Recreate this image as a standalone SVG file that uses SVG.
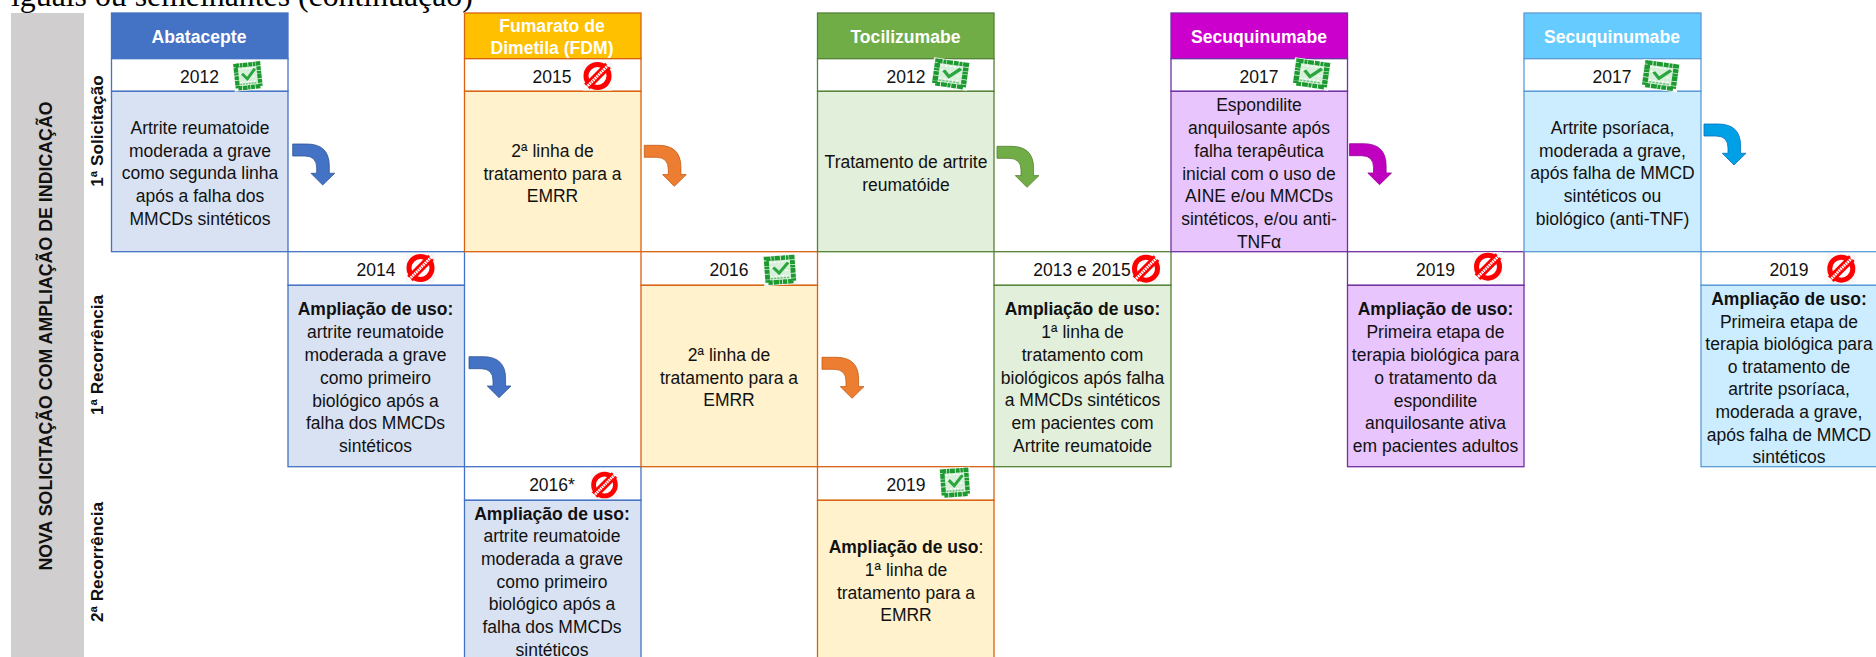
<svg xmlns="http://www.w3.org/2000/svg" width="1876" height="657" viewBox="0 0 1876 657">
<style>
text{font-family:"Liberation Sans",Arial,sans-serif;font-size:17.5px;fill:#111;text-anchor:middle}
.title{font-family:"Liberation Serif","Times New Roman",serif;font-size:31.8px;text-anchor:start;fill:#000}
.h{font-weight:bold;fill:#fff;font-size:17.6px}
.b,.bs{font-weight:bold}
.r{font-weight:bold;font-size:17.2px}
.n{font-weight:bold;font-size:17.8px}
rect.c{stroke-width:1.3}
.y{fill:#fff}
.blue .c{stroke:#4472C4}.blue .hd{fill:#4472C4}.blue .bd{fill:#D9E2F3}
.orange .c{stroke:#D9610F}.orange .hd{fill:#FFC000}.orange .bd{fill:#FFF2CC}
.green .c{stroke:#548235}.green .hd{fill:#70AD47}.green .bd{fill:#E2EFDA}
.purple .c{stroke:#7030A0}.purple .hd{fill:#CC00CC}.purple .bd{fill:#E8C5FD}
.cyan .c{stroke:#5B9BD5}.cyan .hd{fill:#66CCFF}.cyan .bd{fill:#CCECFF}
.a{stroke-width:.8}
.a1{fill:#4472C4;stroke:#2F5597}.a2{fill:#ED7D31;stroke:#C55A11}.a3{fill:#70AD47;stroke:#548235}.a4{fill:#BF00BF;stroke:#9A009A}.a5{fill:#00A0E6;stroke:#0070C0}
</style>
<defs>
<path id="arrow" d="M0 0H14Q36.600 0 36.600 22V29.300H42L30 41 18.300 29.300H24V24Q24 12 12 12H0Z"/>
<g id="ok">
<rect x="-15.500" y="-15" width="31" height="30" fill="#f7f8f7"/>
<rect x="-12" y="-12" width="24" height="24" fill="#d8efda" stroke="#1c9a30" stroke-width="4.500" stroke-dasharray="4 .7 2.500 .5 5 .8"/>
<path d="M-9-8H9M-9-3H-4M5 1H9M-9 6H9" stroke="#fff" stroke-width="1.200" stroke-dasharray="2 1.600"/>
<path d="M-6-3-1 3 8-7" fill="none" stroke="#2aa63e" stroke-width="3"/>
<path d="M-9 8H9" stroke="#6cc47a" stroke-width="1.500" stroke-dasharray="2 1"/>
</g>
<g id="no">
<rect x="-14.500" y="-14.500" width="29" height="29" fill="#f7f7f7"/>
<circle r="11.500" fill="#fff" stroke="#f00" stroke-width="5"/>
<path d="M-10.500 10.500 10.500-10.500" stroke="#f00" stroke-width="8"/>
<path d="M-11.500 11.500 11.500-11.500" stroke="#fff" stroke-width="2.800" stroke-dasharray="1.800 .7"/>
</g>
</defs>

<text class="title" x="11" y="5.500">iguais ou semelhantes (continuação)</text>

<g id="faixa-lateral">
<rect x="11" y="13" width="73" height="644" fill="#D0CECE"/>
<text class="n" transform="translate(52 336) rotate(-90)">NOVA SOLICITAÇÃO COM AMPLIAÇÃO DE INDICAÇÃO</text>
</g>
<g id="linha-1-solicitacao"><text class="r" transform="translate(103 131) rotate(-90)">1ª Solicitação</text></g>
<g id="linha-1-recorrencia"><text class="r" transform="translate(103 355) rotate(-90)">1ª Recorrência</text></g>
<g id="linha-2-recorrencia"><text class="r" transform="translate(103 562) rotate(-90)">2ª Recorrência</text></g>

<g id="abatacepte-2012" class="blue">
<rect class="c hd" x="111.500" y="13" width="176.500" height="45.700"/>
<rect class="c y" x="111.500" y="58.700" width="176.500" height="32.600"/>
<rect class="c bd" x="111.500" y="91.300" width="176.500" height="160.400"/>
<text class="h" x="199" y="42.500">Abatacepte</text>
<text x="199.500" y="82.500">2012</text>
<use href="#ok" transform="translate(248 76) rotate(-6) scale(.95)"/>
<text x="200"><tspan x="200" y="133.500">Artrite reumatoide</tspan><tspan x="200" y="156.500">moderada a grave</tspan><tspan x="200" y="179">como segunda linha</tspan><tspan x="200" y="202">após a falha dos</tspan><tspan x="200" y="224.500">MMCDs sintéticos</tspan></text>
</g>

<g id="abatacepte-2014" class="blue">
<rect class="c y" x="288" y="251.700" width="176.500" height="33.600"/>
<rect class="c bd" x="288" y="285.300" width="176.500" height="181.400"/>
<text x="376" y="275.500">2014</text>
<use href="#no" transform="translate(420.500 268)"/>
<text x="375.500"><tspan class="b" x="375.500" y="315">Ampliação de uso:</tspan><tspan x="375.500" y="338">artrite reumatoide</tspan><tspan x="375.500" y="361">moderada a grave</tspan><tspan x="375.500" y="383.700">como primeiro</tspan><tspan x="375.500" y="406.500">biológico após a</tspan><tspan x="375.500" y="429.300">falha dos MMCDs</tspan><tspan x="375.500" y="452">sintéticos</tspan></text>
</g>

<g id="abatacepte-2016" class="blue">
<rect class="c y" x="464.500" y="466.700" width="176.500" height="33.600"/>
<rect class="c bd" x="464.500" y="500.300" width="176.500" height="170"/>
<text x="552" y="490.500">2016*</text>
<use href="#no" transform="translate(604.500 485) scale(.95)"/>
<text x="552"><tspan class="b" x="552" y="520">Ampliação de uso:</tspan><tspan x="552" y="542">artrite reumatoide</tspan><tspan x="552" y="565">moderada a grave</tspan><tspan x="552" y="588">como primeiro</tspan><tspan x="552" y="610">biológico após a</tspan><tspan x="552" y="633">falha dos MMCDs</tspan><tspan x="552" y="656">sintéticos</tspan></text>
</g>

<g id="fdm-2015" class="orange">
<rect class="c hd" x="464.500" y="13" width="176.500" height="45.700"/>
<rect class="c y" x="464.500" y="58.700" width="176.500" height="32.600"/>
<rect class="c bd" x="464.500" y="91.300" width="176.500" height="160.400"/>
<text class="h" x="552"><tspan x="552" y="31.500">Fumarato de</tspan><tspan x="552" y="54">Dimetila (FDM)</tspan></text>
<text x="552" y="82.500">2015</text>
<use href="#no" transform="translate(597.500 76)"/>
<text x="552.500"><tspan x="552.500" y="156.700">2ª linha de</tspan><tspan x="552.500" y="179.500">tratamento para a</tspan><tspan x="552.500" y="202.300">EMRR</tspan></text>
</g>

<g id="fdm-2016" class="orange">
<rect class="c y" x="641" y="251.700" width="176.500" height="33.600"/>
<rect class="c bd" x="641" y="285.300" width="176.500" height="181.400"/>
<text x="729" y="275.500">2016</text>
<use href="#ok" transform="translate(780 270) rotate(-4) scale(1.080 1)"/>
<text x="729"><tspan x="729" y="361">2ª linha de</tspan><tspan x="729" y="383.500">tratamento para a</tspan><tspan x="729" y="406">EMRR</tspan></text>
</g>

<g id="fdm-2019" class="orange">
<rect class="c y" x="817.500" y="466.700" width="176.500" height="33.600"/>
<rect class="c bd" x="817.500" y="500.300" width="176.500" height="170"/>
<text x="906" y="490.500">2019</text>
<use href="#ok" transform="translate(955 482.700) rotate(-4)"/>
<text x="906"><tspan class="b" x="906" y="553">Ampliação de uso<tspan style="font-weight:normal">:</tspan></tspan><tspan x="906" y="576">1ª linha de</tspan><tspan x="906" y="599">tratamento para a</tspan><tspan x="906" y="621">EMRR</tspan></text>
</g>

<g id="tocilizumabe-2012" class="green">
<rect class="c hd" x="817.500" y="13" width="176.500" height="45.700"/>
<rect class="c y" x="817.500" y="58.700" width="176.500" height="32.600"/>
<rect class="c bd" x="817.500" y="91.300" width="176.500" height="160.400"/>
<text class="h" x="905.500" y="42.500">Tocilizumabe</text>
<text x="906" y="82.500">2012</text>
<use href="#ok" transform="translate(950.500 74) rotate(8) scale(1.200 .95)"/>
<text x="906"><tspan x="906" y="168">Tratamento de artrite</tspan><tspan x="906" y="191">reumatóide</tspan></text>
</g>

<g id="tocilizumabe-2013" class="green">
<rect class="c y" x="994" y="251.700" width="177" height="33.600"/>
<rect class="c bd" x="994" y="285.300" width="177" height="181.400"/>
<text x="1082" y="275.500">2013 e 2015</text>
<use href="#no" transform="translate(1146 268.700)"/>
<text x="1082.500"><tspan class="b" x="1082.500" y="315">Ampliação de uso:</tspan><tspan x="1082.500" y="338">1ª linha de</tspan><tspan x="1082.500" y="361">tratamento com</tspan><tspan x="1082.500" y="383.500">biológicos após falha</tspan><tspan x="1082.500" y="406">a MMCDs sintéticos</tspan><tspan x="1082.500" y="429">em pacientes com</tspan><tspan x="1082.500" y="452">Artrite reumatoide</tspan></text>
</g>

<g id="secuquinumabe-ea-2017" class="purple">
<rect class="c hd" x="1171" y="13" width="176.500" height="45.700"/>
<rect class="c y" x="1171" y="58.700" width="176.500" height="32.600"/>
<rect class="c bd" x="1171" y="91.300" width="176.500" height="160.400"/>
<text class="h" x="1259" y="42.500">Secuquinumabe</text>
<text x="1259" y="82.500">2017</text>
<use href="#ok" transform="translate(1311.500 74) rotate(8) scale(1.200 .95)"/>
<text x="1259"><tspan x="1259" y="111">Espondilite</tspan><tspan x="1259" y="134">anquilosante após</tspan><tspan x="1259" y="157">falha terapêutica</tspan><tspan x="1259" y="179.500">inicial com o uso de</tspan><tspan x="1259" y="202">AINE e/ou MMCDs</tspan><tspan x="1259" y="225">sintéticos, e/ou anti-</tspan><tspan x="1259" y="247.500">TNFα</tspan></text>
</g>

<g id="secuquinumabe-ea-2019" class="purple">
<rect class="c y" x="1347.500" y="251.700" width="176.500" height="33.600"/>
<rect class="c bd" x="1347.500" y="285.300" width="176.500" height="181.400"/>
<text x="1435.500" y="275.500">2019</text>
<use href="#no" transform="translate(1488 266.700)"/>
<text x="1435.500"><tspan class="b" x="1435.500" y="315">Ampliação de uso:</tspan><tspan x="1435.500" y="338">Primeira etapa de</tspan><tspan x="1435.500" y="361">terapia biológica para</tspan><tspan x="1435.500" y="383.700">o tratamento da</tspan><tspan x="1435.500" y="406.500">espondilite</tspan><tspan x="1435.500" y="429">anquilosante ativa</tspan><tspan x="1435.500" y="452">em pacientes adultos</tspan></text>
</g>

<g id="secuquinumabe-ap-2017" class="cyan">
<rect class="c hd" x="1524" y="13" width="177" height="45.700"/>
<rect class="c y" x="1524" y="58.700" width="177" height="32.600"/>
<rect class="c bd" x="1524" y="91.300" width="177" height="160.400"/>
<text class="h" x="1612" y="42.500">Secuquinumabe</text>
<text x="1612" y="82.500">2017</text>
<use href="#ok" transform="translate(1660.500 75.700) rotate(8) scale(1.200 .95)"/>
<text x="1612.500"><tspan x="1612.500" y="133.500">Artrite psoríaca,</tspan><tspan x="1612.500" y="156.500">moderada a grave,</tspan><tspan x="1612.500" y="179">após falha de MMCD</tspan><tspan x="1612.500" y="202">sintéticos ou</tspan><tspan x="1612.500" y="224.500">biológico (anti-TNF)</tspan></text>
</g>

<g id="secuquinumabe-ap-2019" class="cyan">
<rect class="c y" x="1701" y="251.700" width="180" height="33.600"/>
<rect class="c bd" x="1701" y="285.300" width="180" height="181.400"/>
<text x="1789" y="275.500">2019</text>
<use href="#no" transform="translate(1841.300 268.700)"/>
<text x="1789"><tspan class="b" x="1789" y="305">Ampliação de uso:</tspan><tspan x="1789" y="327.500">Primeira etapa de</tspan><tspan x="1789" y="350">terapia biológica para</tspan><tspan x="1789" y="373">o tratamento de</tspan><tspan x="1789" y="395">artrite psoríaca,</tspan><tspan x="1789" y="418">moderada a grave,</tspan><tspan x="1789" y="441">após falha de MMCD</tspan><tspan x="1789" y="463">sintéticos</tspan></text>
</g>

<g id="conectores">
<use href="#arrow" class="a a1" x="292.700" y="144"/>
<use href="#arrow" class="a a1" x="469" y="356.700"/>
<use href="#arrow" class="a a2" x="644.300" y="145.300"/>
<use href="#arrow" class="a a2" x="822" y="357.300"/>
<use href="#arrow" class="a a3" x="997" y="146.300"/>
<use href="#arrow" class="a a4" x="1349.500" y="143.700"/>
<use href="#arrow" class="a a5" x="1704" y="124"/>
</g>
</svg>
